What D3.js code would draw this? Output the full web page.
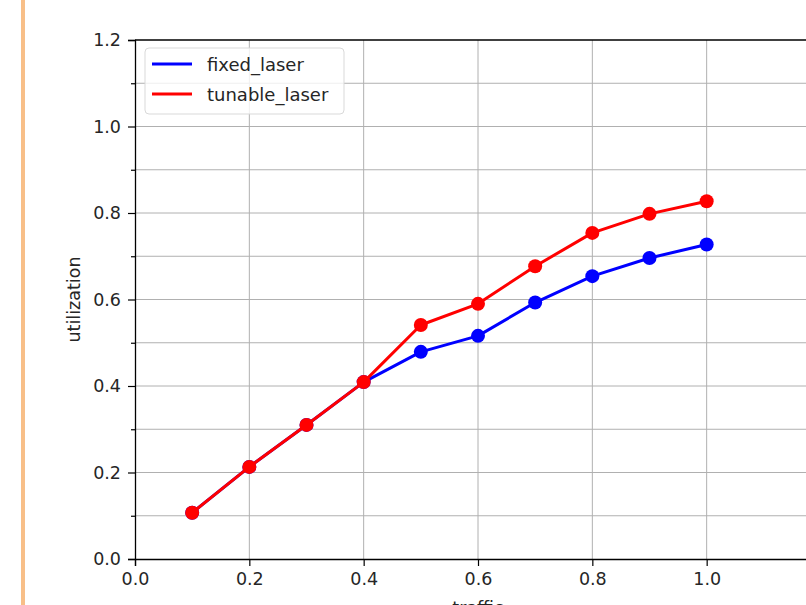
<!DOCTYPE html>
<html>
<head>
<meta charset="utf-8">
<script src="https://cdn.jsdelivr.net/npm/d3@7"></script>
<style>
  body { margin: 0; background: #fff; }
  svg { display: block; font-family: "DejaVu Sans", sans-serif; }
</style>
</head>
<body>
<script>
const width = 806;
const height = 605;

const traffic = [0.1, 0.2, 0.3, 0.4, 0.5, 0.6, 0.7, 0.8, 0.9, 1.0];
const fixed_laser = [0.107, 0.213, 0.310, 0.409, 0.479, 0.516, 0.593, 0.654, 0.696, 0.727];
const tunable_laser = [0.107, 0.213, 0.310, 0.409, 0.541, 0.590, 0.677, 0.754, 0.798, 0.827];
const x_ticks = [0.0, 0.2, 0.4, 0.6, 0.8, 1.0];
const y_ticks = [0.0, 0.2, 0.4, 0.6, 0.8, 1.0, 1.2];
const y_minor = [0.1, 0.3, 0.5, 0.7, 0.9, 1.1];

const series = [
    {name: 'fixed_laser', color: '#0000ff', values: fixed_laser},
    {name: 'tunable_laser', color: '#ff0000', values: tunable_laser}
];

const font_size = 17.5;

const svg = d3.select('body')
    .append('svg')
    .attr('width', width)
    .attr('height', height);

// orange strip on the left edge
svg.append('rect')
    .attr('x', 21).attr('y', 0)
    .attr('width', 4).attr('height', height)
    .attr('fill', '#f8bf88');

const x_scale = d3.scaleLinear().domain([0, 1.2]).range([135, 821]);
const y_scale = d3.scaleLinear().domain([0, 1.2]).range([559, 40]);

// grid
const grid = svg.append('g').attr('stroke', '#b0b0b0').attr('stroke-width', 1);
grid.selectAll('line.v')
    .data(x_ticks.slice(1))
    .enter().append('line')
    .attr('x1', d => x_scale(d)).attr('x2', d => x_scale(d))
    .attr('y1', y_scale(0)).attr('y2', y_scale(1.2));
grid.selectAll('line.h')
    .data(y_ticks.slice(1, -1).concat(y_minor))
    .enter().append('line')
    .attr('x1', x_scale(0)).attr('x2', x_scale(1.2))
    .attr('y1', d => y_scale(d)).attr('y2', d => y_scale(d));

// axes
const x_axis = svg.append('g')
    .attr('transform', `translate(0,${y_scale(0)})`)
    .call(d3.axisBottom(x_scale).tickValues(x_ticks).tickFormat(d3.format('.1f'))
        .tickSizeOuter(0).tickSize(7).tickPadding(7));
const y_axis = svg.append('g')
    .attr('transform', `translate(${x_scale(0)},0)`)
    .call(d3.axisLeft(y_scale).tickValues(y_ticks).tickFormat(d3.format('.1f'))
        .tickSizeOuter(0).tickSize(7).tickPadding(7));
svg.append('g')
    .attr('transform', `translate(${x_scale(0)},0)`)
    .call(d3.axisLeft(y_scale).tickValues(y_minor).tickFormat('').tickSizeOuter(0).tickSize(4))
    .select('.domain').remove();
[x_axis, y_axis].forEach(a => {
    a.selectAll('text').attr('font-size', font_size).attr('fill', '#262626')
        .attr('font-family', '"DejaVu Sans", sans-serif');
    a.select('.domain').attr('stroke', '#000').attr('stroke-width', 1.3);
});
svg.selectAll('.tick line').attr('stroke', '#000').attr('stroke-width', 1.2);

// top spine
svg.append('line')
    .attr('x1', x_scale(0)).attr('x2', x_scale(1.2))
    .attr('y1', y_scale(1.2)).attr('y2', y_scale(1.2))
    .attr('stroke', '#000').attr('stroke-width', 1.3);

// axis labels
svg.append('text')
    .attr('transform', `translate(80,${(y_scale(0) + y_scale(1.2)) / 2}) rotate(-90)`)
    .attr('text-anchor', 'middle')
    .attr('font-size', font_size).attr('fill', '#262626')
    .text('utilization');
svg.append('text')
    .attr('x', (x_scale(0) + x_scale(1.2)) / 2).attr('y', 614)
    .attr('text-anchor', 'middle')
    .attr('font-size', font_size).attr('fill', '#262626')
    .text('traffic');

// lines and markers
const line = d3.line()
    .x((d, i) => x_scale(traffic[i]))
    .y(d => y_scale(d));
series.forEach(s => {
    const g = svg.append('g');
    g.append('path')
        .datum(s.values)
        .attr('fill', 'none')
        .attr('stroke', s.color)
        .attr('stroke-width', 3)
        .attr('stroke-linejoin', 'round')
        .attr('d', line);
    g.selectAll('circle')
        .data(s.values)
        .enter().append('circle')
        .attr('cx', (d, i) => x_scale(traffic[i]))
        .attr('cy', d => y_scale(d))
        .attr('r', 7)
        .attr('fill', s.color);
});

// legend
const legend = svg.append('g');
legend.append('rect')
    .attr('x', 145).attr('y', 48)
    .attr('width', 199).attr('height', 66)
    .attr('rx', 4)
    .attr('fill', 'rgba(255,255,255,0.8)')
    .attr('stroke', '#d9d9d9');
series.forEach((s, i) => {
    const y = 64 + i * 30;
    legend.append('line')
        .attr('x1', 152).attr('x2', 192)
        .attr('y1', y).attr('y2', y)
        .attr('stroke', s.color).attr('stroke-width', 3);
    legend.append('text')
        .attr('x', 207).attr('y', y + 6.5)
        .attr('font-size', 18).attr('fill', '#262626')
        .text(s.name);
});
</script>
</body>
</html>
